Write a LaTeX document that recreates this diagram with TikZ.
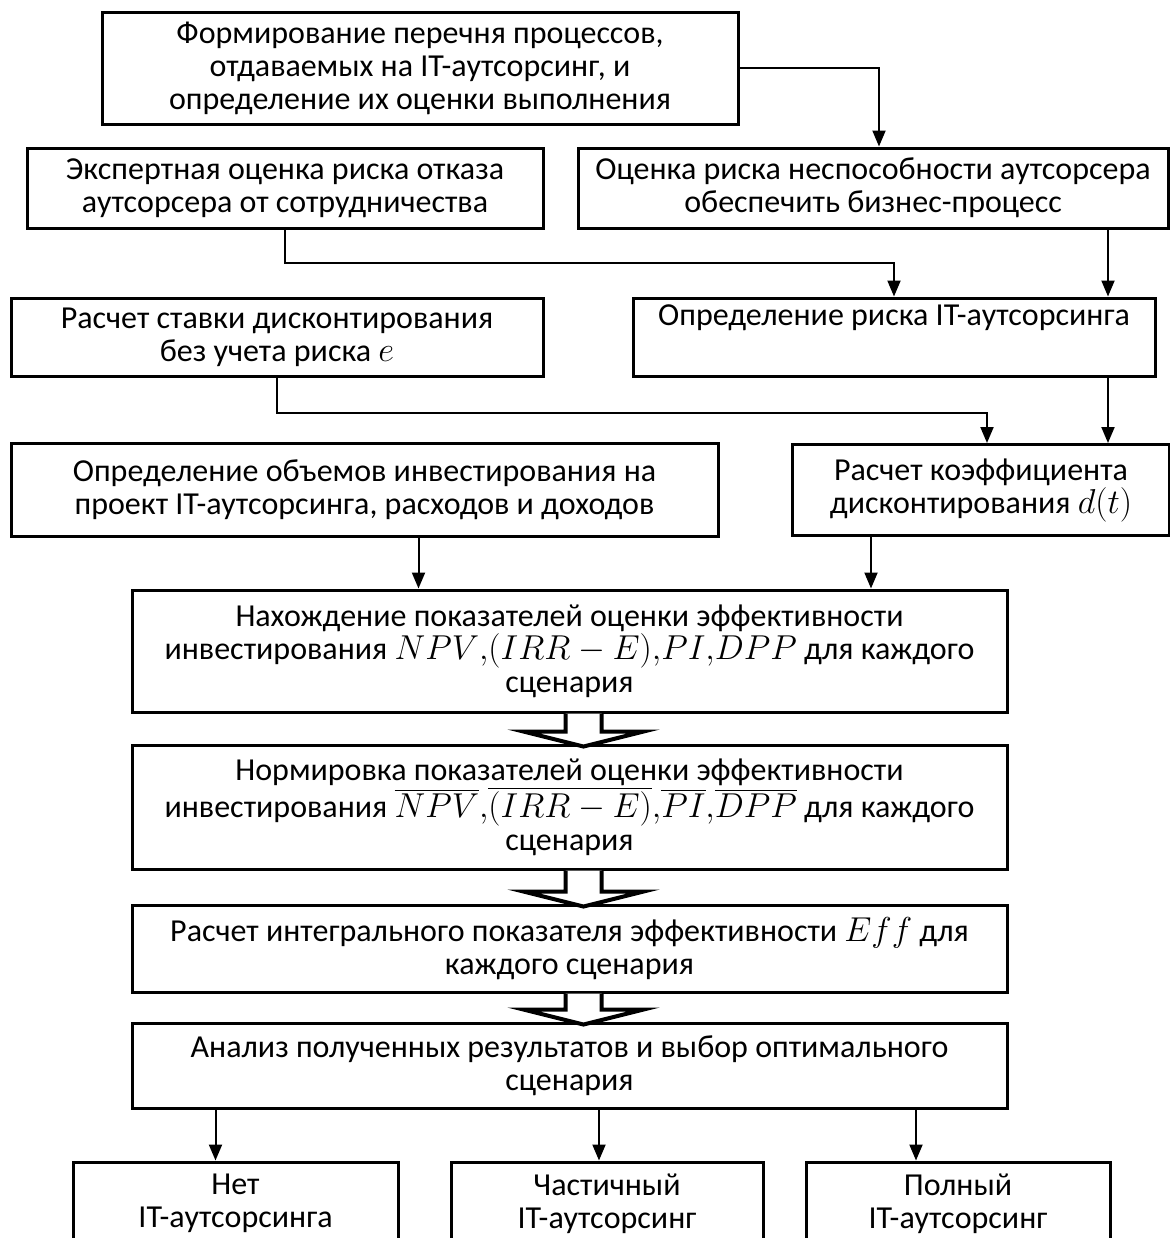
\documentclass[tikz,border=0pt]{standalone}
\usepackage{fontspec}
\setmainfont{Carlito}
\usetikzlibrary{calc,arrows.meta}

\tikzset{
    box/.style={draw, line width=1.5pt, align=center, inner sep=0pt,
        font=\fontsize{16}{16.5}\selectfont},
    arr/.style={line width=1pt, -{Triangle[length=8pt,width=6.5pt]}},
    blockarrow/.style={line width=2pt, fill=white, line join=miter}
}

\begin{document}
\begin{tikzpicture}[x=0.5pt,y=-0.5pt]
\useasboundingbox (0,0) rectangle (1170,1238);
\clip (0,0) rectangle (1170,1238);

\node[box, minimum width=318pt, minimum height=56pt] (A) at (420,68)
    {Формирование перечня процессов,\\ отдаваемых на IT-аутсорсинг, и\\ определение их оценки выполнения};
\node[box, minimum width=258pt, minimum height=40pt] (B) at (285,188)
    {Экспертная оценка риска отказа\\ аутсорсера от сотрудничества};
\node[box, minimum width=295pt, minimum height=40pt] (C) at (873,188)
    {Оценка риска неспособности аутсорсера\\ обеспечить бизнес-процесс};
\node[box, minimum width=261pt, minimum height=39pt] (D) at (894,337)
    {Определение риска IT-аутсорсинга\\ \strut};
\node[box, minimum width=266pt, minimum height=39pt, text depth=2pt] (E) at (277,337)
    {Расчет ставки дисконтирования\\ без учета риска $e$};
\node[box, minimum width=353.5pt, minimum height=46.5pt] (F) at (364.5,489.5)
    {Определение объемов инвестирования на\\ проект IT-аутсорсинга, расходов и доходов};
\node[box, minimum width=188.5pt, minimum height=45.5pt] (G) at (981,490)
    {Расчет коэффициента\\ дисконтирования $d(t)$};
\node[box, minimum width=437.5pt, minimum height=61pt] (H) at (569.5,651)
    {Нахождение показателей оценки эффективности\\ инвестирования $NPV{,}(IRR-E){,}PI{,}DPP$ для каждого\\ сценария};
\node[box, minimum width=437.5pt, minimum height=62pt] (I) at (569.5,807)
    {Нормировка показателей оценки эффективности\\ инвестирования $\overline{NPV}{,}\overline{(IRR-E)}{,}\overline{PI}{,}\overline{DPP}$ для каждого\\ сценария};
\node[box, minimum width=437.5pt, minimum height=43.5pt] (J) at (569.5,948.5)
    {Расчет интегрального показателя эффективности $Eff$ для\\ каждого сценария};
\node[box, minimum width=437.5pt, minimum height=42.5pt] (K) at (569.5,1065.5)
    {Анализ полученных результатов и выбор оптимального\\ сценария};
\node[box, minimum width=162.5pt, minimum height=41.5pt] (L1) at (235.5,1203.5)
    {Нет\\ IT-аутсорсинга};
\node[box, minimum width=156pt, minimum height=41.5pt] (L2) at (607,1203.5)
    {Частичный\\ IT-аутсорсинг};
\node[box, minimum width=152pt, minimum height=41.5pt] (L3) at (958,1203.5)
    {Полный\\ IT-аутсорсинг};

\draw[arr] (A.east) -| ($(C.north)+(6,0)$);
\draw[arr] (B.south) -- ++(0,33) -| (D.north);
\coordinate (c1) at ($(C.south)+(235,0)$);
\draw[arr] (c1) -- (c1 |- D.north);
\draw[arr] (E.south) -- ++(0,35) -| ($(G.north)+(6,0)$);
\coordinate (d1) at ($(D.south)+(214,0)$);
\draw[arr] (d1) -- (d1 |- G.north);
\coordinate (f1) at ($(F.south)+(54,0)$);
\draw[arr] (f1) -- (f1 |- H.north);
\coordinate (g1) at ($(G.south)+(-110,0)$);
\draw[arr] (g1) -- (g1 |- H.north);

\foreach \u/\v in {H/I,I/J,J/K}{
    \coordinate (t) at ($(\u.south)+(14,0)$);
    \coordinate (b) at ($(\v.north)+(14,3)$);
    \draw[blockarrow] ($(t)+(-18,0)$) -- ($(b)+(-18,-15)$) -- ($(b)+(-60,-15)$) -- (b)
        -- ($(b)+(60,-15)$) -- ($(b)+(18,-15)$) -- ($(t)+(18,0)$);
}

\coordinate (l1) at ($(L1.north)+(-20,0)$);
\coordinate (l2) at ($(L2.north)+(-8,0)$);
\coordinate (l3) at ($(L3.north)+(-42,0)$);
\foreach \l in {l1,l2,l3}
    \draw[arr] (K.south -| \l) -- (\l);
\end{tikzpicture}
\end{document}
